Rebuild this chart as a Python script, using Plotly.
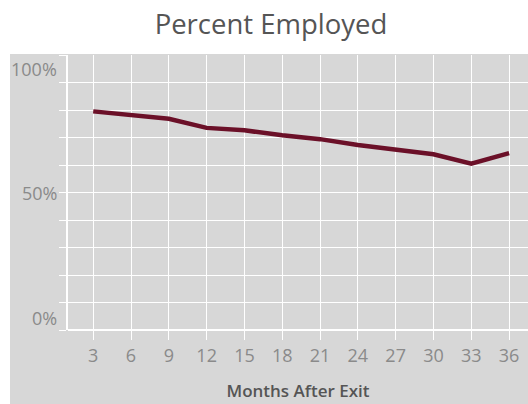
import plotly.graph_objects as go

# ---- data ----
months = [3, 6, 9, 12, 15, 18, 21, 24, 27, 30, 33, 36]
pct_employed = [79.5, 78.0, 76.8, 73.5, 72.6, 70.8, 69.4, 67.3, 65.7, 63.9, 60.5, 64.3]
x_ticks = [3, 6, 9, 12, 15, 18, 21, 24, 27, 30, 33, 36]
y_label_vals = [0, 50, 100]
y_label_text = ["0%", "50%", "100%"]
y_label_shift = [12, 0, -14]

W, H = 528, 404
ML, MR, MT, MB = 68, 0, 55, 74
PW, PH = W - ML - MR, H - MT - MB
GRAY = "#d7d7d7"
FONT = "Open Sans"

fig = go.Figure()
fig.add_trace(go.Scatter(
    x=months, y=pct_employed, mode="lines",
    line=dict(color="#6b1028", width=4.5),
    hoverinfo="skip", showlegend=False,
))

# gray panel behind axes and labels
fig.add_shape(type="rect", xref="paper", yref="paper",
              x0=(10 - ML) / PW, x1=1.0,
              y0=-(MB + 5) / PH, y1=1 + 1 / PH,
              fillcolor=GRAY, line=dict(width=0), layer="below")

annotations = []
for v, t, s in zip(y_label_vals, y_label_text, y_label_shift):
    annotations.append(dict(
        x=0, xref="paper", y=v, yref="y", text=t, showarrow=False,
        xanchor="right", yanchor="middle", xshift=-9, yshift=s,
        font=dict(family=FONT, size=18, color="#8a8a8a"),
    ))

fig.update_layout(
    width=W, height=H,
    margin=dict(l=ML, r=MR, t=MT, b=MB, pad=0),
    paper_bgcolor="white",
    plot_bgcolor="rgba(0,0,0,0)",
    title=dict(text="Percent Employed", x=271 / W, xanchor="center",
               y=1 - 24 / H, yanchor="middle", yref="container",
               font=dict(family=FONT, size=27.5, color="#555555")),
    xaxis=dict(
        range=[1, 37.5], tickmode="array", tickvals=x_ticks,
        showgrid=True, gridcolor="white", gridwidth=1,
        ticks="outside", ticklen=9, tickcolor="white", tickwidth=1,
        tickfont=dict(family=FONT, size=18, color="#8a8a8a"),
        zeroline=False, showline=False,
        title=dict(text="Months After Exit", standoff=19,
                   font=dict(family=FONT, size=17, color="#555555", weight=600)),
        fixedrange=True,
    ),
    yaxis=dict(
        range=[0, 100], tick0=0, dtick=10,
        showgrid=True, gridcolor="white", gridwidth=1,
        ticks="outside", ticklen=7, tickcolor="white", tickwidth=1,
        showticklabels=False,
        zeroline=True, zerolinecolor="white", zerolinewidth=1.5,
        showline=True, linecolor="white", linewidth=1.5,
        fixedrange=True,
    ),
    annotations=annotations,
)

fig.write_html("out.html", config={"displayModeBar": False},
               post_script="document.body.style.margin='0';document.body.style.overflow='hidden';")
